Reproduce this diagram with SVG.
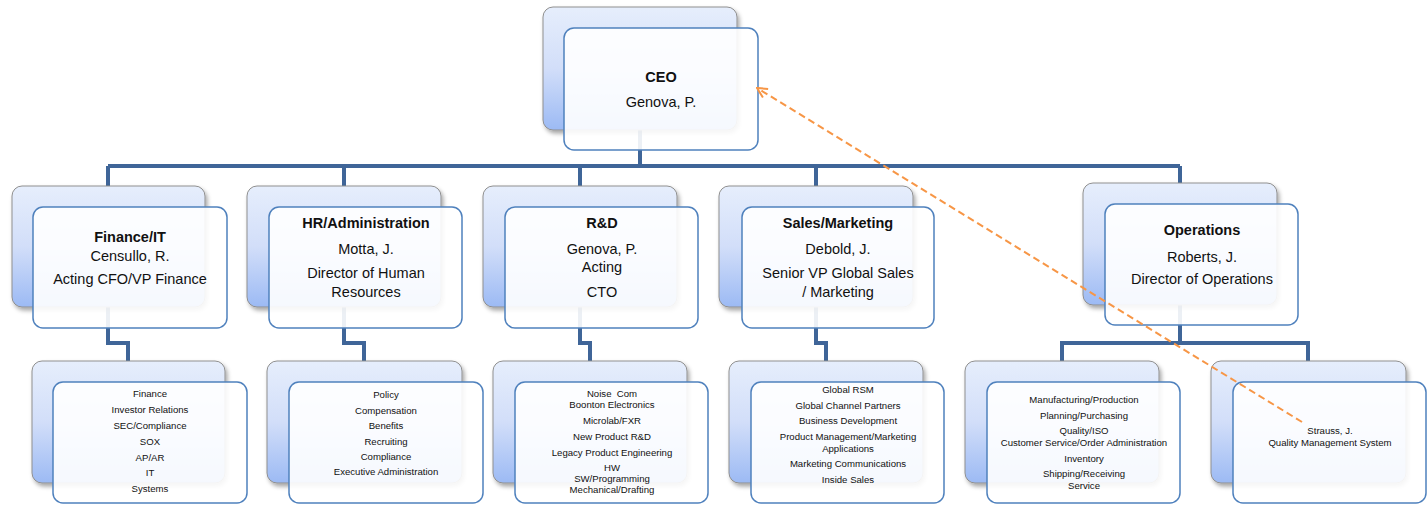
<svg xmlns="http://www.w3.org/2000/svg" width="1427" height="506" viewBox="0 0 1427 506">
<defs>
<linearGradient id="gb" x1="0" y1="0" x2="0" y2="1">
<stop offset="0" stop-color="#e6eefc"/>
<stop offset="0.5" stop-color="#d2def9"/>
<stop offset="1" stop-color="#9cbaf4"/>
</linearGradient>
<filter id="sh" x="-10%" y="-10%" width="120%" height="125%">
<feDropShadow dx="2" dy="3" stdDeviation="2" flood-color="#000" flood-opacity="0.35"/>
</filter>
<marker id="ah" viewBox="0 0 12 12" refX="11" refY="6" markerWidth="12" markerHeight="12" markerUnits="userSpaceOnUse" orient="auto">
<path d="M1 1 L11 6 L1 11" fill="none" stroke="#f79646" stroke-width="2"/>
</marker>
<style>
.back{fill:url(#gb);stroke:#8f8f8f;stroke-width:1;filter:url(#sh)}
.front{fill:#ffffff;fill-opacity:0.9;stroke:#4f81bd;stroke-width:1.5}
.conn{fill:none;stroke:#3f6598;stroke-width:4;stroke-linejoin:miter}
.t{font-family:"Liberation Sans",Arial,sans-serif;font-size:14.5px;fill:#111;text-anchor:middle}
.b{font-weight:bold}
.s{font-size:9.6px}
.dash{fill:none;stroke:#f79646;stroke-width:2;stroke-dasharray:7 4}
</style>
</defs>
<rect width="1427" height="506" fill="#ffffff"/>
<g id="connectors">
<path class="conn" d="M640 130 V166"/>
<path class="conn" d="M108 166 H1180"/>
<path class="conn" d="M108 166 V186 M344 166 V186 M580 166 V186 M816 166 V186 M1180 166 V183"/>
<path class="conn" d="M108 307 V343 H128 V361"/>
<path class="conn" d="M344 307 V343 H364 V361"/>
<path class="conn" d="M580 307 V343 H590 V361"/>
<path class="conn" d="M816 307 V343 H826 V361"/>
<path class="conn" d="M1180 305 V343 M1062 361 V343 H1308 V361"/>
</g>
<g id="ceo">
<rect class="back" x="543" y="7" width="194" height="123" rx="10"/>
<rect class="front" x="564" y="28" width="194" height="122" rx="10"/>
<text class="t b" x="661" y="82">CEO</text>
<text class="t" x="661" y="107">Genova, P.</text>
</g>
<g id="finance">
<rect class="back" x="12" y="186" width="193" height="121" rx="10"/>
<rect class="front" x="33" y="207" width="194" height="121" rx="10"/>
<text class="t b" x="130" y="242">Finance/IT</text>
<text class="t" x="130" y="261">Censullo, R.</text>
<text class="t" x="130" y="284">Acting CFO/VP Finance</text>
</g>
<g id="hr">
<rect class="back" x="247" y="186" width="194" height="121" rx="10"/>
<rect class="front" x="269" y="207" width="193" height="121" rx="10"/>
<text class="t b" x="366" y="228">HR/Administration</text>
<text class="t" x="366" y="254">Motta, J.</text>
<text class="t" x="366" y="278">Director of Human</text>
<text class="t" x="366" y="297">Resources</text>
</g>
<g id="rnd">
<rect class="back" x="483" y="186" width="194" height="121" rx="10"/>
<rect class="front" x="505" y="207" width="193" height="121" rx="10"/>
<text class="t b" x="602" y="228">R&amp;D</text>
<text class="t" x="602" y="254">Genova, P.</text>
<text class="t" x="602" y="272">Acting</text>
<text class="t" x="602" y="297">CTO</text>
</g>
<g id="sales">
<rect class="back" x="719" y="186" width="194" height="121" rx="10"/>
<rect class="front" x="742" y="207" width="192" height="121" rx="10"/>
<text class="t b" x="838" y="228">Sales/Marketing</text>
<text class="t" x="838" y="254">Debold, J.</text>
<text class="t" x="838" y="278">Senior VP Global Sales</text>
<text class="t" x="838" y="297">/ Marketing</text>
</g>
<g id="operations">
<rect class="back" x="1083" y="183" width="194" height="122" rx="10"/>
<rect class="front" x="1105" y="204" width="193" height="121" rx="10"/>
<text class="t b" x="1202" y="235">Operations</text>
<text class="t" x="1202" y="262">Roberts, J.</text>
<text class="t" x="1202" y="284">Director of Operations</text>
</g>
<g id="finance-items">
<rect class="back" x="32" y="361" width="193" height="122" rx="10"/>
<rect class="front" x="53" y="382" width="194" height="121" rx="10"/>
<text class="t s" x="150" y="397">Finance</text>
<text class="t s" x="150" y="413">Investor Relations</text>
<text class="t s" x="150" y="429">SEC/Compliance</text>
<text class="t s" x="150" y="445">SOX</text>
<text class="t s" x="150" y="461">AP/AR</text>
<text class="t s" x="150" y="476">IT</text>
<text class="t s" x="150" y="492">Systems</text>
</g>
<g id="hr-items">
<rect class="back" x="267" y="361" width="195" height="122" rx="10"/>
<rect class="front" x="289" y="382" width="194" height="121" rx="10"/>
<text class="t s" x="386" y="398">Policy</text>
<text class="t s" x="386" y="414">Compensation</text>
<text class="t s" x="386" y="429">Benefits</text>
<text class="t s" x="386" y="445">Recruiting</text>
<text class="t s" x="386" y="460">Compliance</text>
<text class="t s" x="386" y="475">Executive Administration</text>
</g>
<g id="rnd-items">
<rect class="back" x="493" y="361" width="194" height="122" rx="10"/>
<rect class="front" x="515" y="382" width="193" height="121" rx="10"/>
<text class="t s" x="612" y="397" xml:space="preserve">Noise  Com</text>
<text class="t s" x="612" y="408">Boonton Electronics</text>
<text class="t s" x="612" y="424">Microlab/FXR</text>
<text class="t s" x="612" y="440">New Product R&amp;D</text>
<text class="t s" x="612" y="456">Legacy Product Engineering</text>
<text class="t s" x="612" y="471">HW</text>
<text class="t s" x="612" y="482">SW/Programming</text>
<text class="t s" x="612" y="493">Mechanical/Drafting</text>
</g>
<g id="sales-items">
<rect class="back" x="729" y="361" width="194" height="122" rx="10"/>
<rect class="front" x="751" y="382" width="193" height="121" rx="10"/>
<text class="t s" x="848" y="393">Global RSM</text>
<text class="t s" x="848" y="409">Global Channel Partners</text>
<text class="t s" x="848" y="424">Business Development</text>
<text class="t s" x="848" y="440">Product Management/Marketing</text>
<text class="t s" x="848" y="452">Applications</text>
<text class="t s" x="848" y="467">Marketing Communications</text>
<text class="t s" x="848" y="483">Inside Sales</text>
</g>
<g id="operations-items">
<rect class="back" x="965" y="361" width="194" height="122" rx="10"/>
<rect class="front" x="987" y="382" width="193" height="121" rx="10"/>
<text class="t s" x="1084" y="403">Manufacturing/Production</text>
<text class="t s" x="1084" y="419">Planning/Purchasing</text>
<text class="t s" x="1084" y="434">Quality/ISO</text>
<text class="t s" x="1084" y="446">Customer Service/Order Administration</text>
<text class="t s" x="1084" y="462">Inventory</text>
<text class="t s" x="1084" y="477">Shipping/Receiving</text>
<text class="t s" x="1084" y="489">Service</text>
</g>
<g id="quality">
<rect class="back" x="1211" y="361" width="195" height="122" rx="10"/>
<rect class="front" x="1233" y="382" width="193" height="121" rx="10"/>
<text class="t s" x="1330" y="434">Strauss, J.</text>
<text class="t s" x="1330" y="446">Quality Management System</text>
</g>
<g id="dotted-line">
<line class="dash" x1="1302" y1="422" x2="757" y2="88" marker-end="url(#ah)"/>
</g>
</svg>
